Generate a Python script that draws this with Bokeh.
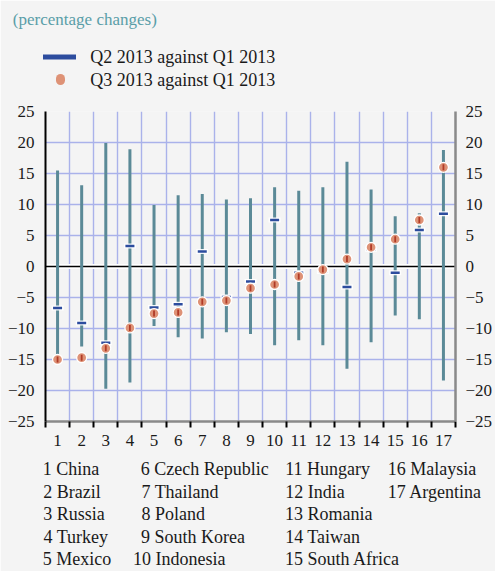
import math
from bokeh.plotting import figure
from bokeh.models import (Range1d, FixedTicker, LinearAxis, Span)
from bokeh.embed import file_html
from bokeh.resources import INLINE

# ---------------- data ----------------
countries = ["China", "Brazil", "Russia", "Turkey", "Mexico", "Czech Republic",
             "Thailand", "Poland", "South Korea", "Indonesia", "Hungary", "India",
             "Romania", "Taiwan", "South Africa", "Malaysia", "Argentina"]
idx = list(range(1, 18))
q2 = [-6.7, -9.1, -12.3, 3.3, -6.6, -6.1, 2.4, -4.9, -2.4, 7.5, -1.0, -0.8, -3.3, 2.8, -1.0, 5.9, 8.5]
q3 = [-15.0, -14.7, -13.2, -9.9, -7.6, -7.4, -5.7, -5.5, -3.5, -2.9, -1.6, -0.5, 1.2, 3.1, 4.4, 7.5, 16.0]
high = [15.5, 13.1, 19.9, 18.9, 9.9, 11.5, 11.7, 10.8, 11.0, 12.8, 12.2, 12.8, 16.9, 12.4, 8.1, 8.6, 18.8]
low = [-15.2, -12.9, -19.7, -18.7, -9.6, -11.4, -11.6, -10.6, -10.9, -12.7, -11.9, -12.7, -16.5, -12.2, -7.9, -8.5, -18.4]
y_ticks = [-25, -20, -15, -10, -5, 0, 5, 10, 15, 20, 25]
legend_labels = ["Q2 2013  against Q1 2013", "Q3 2013  against Q1 2013"]
title_text = "(percentage changes)"

# ---------------- style ----------------
FONT = "Liberation Serif"
BG = "#f4f4f4"
GRID = "#aab2ea"
TEAL = "#5b8a97"
BLUE = "#2c4c9e"
ORANGE = "#de9276"
DARKRED = "#b03a26"
TITLE_C = "#5a9ea8"
TXT = "#1a1a1a"

FL, FR = 45, 462  # frame edges (px)

# Times-compatible advance widths (per 1000 em) for placing text by its centre
_W = {" ": 250, "(": 333, ")": 333, "-": 333}
_W.update({d: 500 for d in "0123456789"})
_W.update(dict(zip("abcdefghijklmnopqrstuvwxyz",
                   [444, 500, 444, 500, 444, 333, 500, 500, 278, 278, 500, 278, 778,
                    500, 500, 500, 500, 333, 389, 278, 500, 500, 722, 500, 500, 444])))
_W.update(dict(zip("ABCDEFGHIJKLMNOPQRSTUVWXYZ",
                   [722, 667, 667, 722, 611, 556, 722, 722, 333, 389, 722, 611, 889,
                    722, 722, 556, 722, 667, 556, 611, 722, 722, 944, 722, 722, 611])))


def tw(s, size):
    return sum(_W.get(c, 500) for c in s) * size / 1000.0


p = figure(width=495, height=571, output_backend="svg", toolbar_location=None, title=None,
           x_range=Range1d(0.5, 17.5), y_range=Range1d(-25, 25),
           min_border_left=FL, min_border_right=495 - FR, min_border_top=111, min_border_bottom=147,
           background_fill_color=BG, border_fill_color=BG, outline_line_color=None)
p.extra_x_ranges = {"px": Range1d(FL, FR)}

# bottom axis
xa = p.xaxis[0]
xa.ticker = FixedTicker(ticks=idx, minor_ticks=[i + 0.5 for i in range(0, 18)])
xa.major_tick_line_color = None
xa.major_tick_out = 0
xa.major_tick_in = 0
xa.minor_tick_line_color = "black"
xa.minor_tick_line_width = 2
xa.minor_tick_out = 6
xa.minor_tick_in = 0
xa.axis_line_color = "#8a8a8a"
xa.axis_line_width = 2.5
xa.major_label_standoff = 7
xa.major_label_text_font = FONT
xa.major_label_text_font_size = "17px"
xa.major_label_text_color = TXT

# left axis
ya = p.yaxis[0]
ya.ticker = FixedTicker(ticks=y_ticks)
ya.major_tick_out = 0
ya.major_tick_in = 0
ya.minor_tick_line_color = None
ya.axis_line_color = "black"
ya.axis_line_width = 2
ya.major_label_standoff = 11
ya.major_label_text_font = FONT
ya.major_label_text_font_size = "17px"
ya.major_label_text_color = TXT

# right axis
ra = LinearAxis(ticker=FixedTicker(ticks=y_ticks))
ra.major_tick_out = 0
ra.major_tick_in = 0
ra.minor_tick_line_color = None
ra.axis_line_color = "#8a8a8a"
ra.axis_line_width = 2.5
ra.major_label_standoff = 10
ra.major_label_text_font = FONT
ra.major_label_text_font_size = "17px"
ra.major_label_text_color = TXT
p.add_layout(ra, "right")

# grids
p.xgrid.ticker = FixedTicker(ticks=[i + 0.5 for i in range(1, 17)])
p.ygrid.ticker = FixedTicker(ticks=y_ticks)
for g in (p.xgrid[0], p.ygrid[0]):
    g.grid_line_color = GRID
    g.grid_line_width = 1.4

# zero line
p.add_layout(Span(location=0, dimension="width", line_color="white", line_width=5, level="underlay"))
p.add_layout(Span(location=0, dimension="width", line_color="black", line_width=1.6, level="underlay"))

# ranges
p.segment(x0=idx, y0=low, x1=idx, y1=high, line_color=TEAL, line_width=3)

# Q2 markers
p.scatter(idx, q2, marker="dash", size=12, line_color="white", line_width=5, line_alpha=0.9)
p.scatter(idx, q2, marker="dash", size=9, line_color=BLUE, line_width=2.5)

# Q3 markers
p.scatter(idx, q3, marker="circle", size=10, fill_color=ORANGE, line_color="white", line_width=1.3)
p.scatter(idx, q3, marker="dash", angle=math.pi / 2, size=6, line_color=DARKRED, line_width=1.8)


def text_axis(centres, texts, size, color, standoff, minor=None):
    ticks = [int(round(c)) for c in centres]
    ax = LinearAxis(x_range_name="px",
                    ticker=FixedTicker(ticks=ticks, minor_ticks=minor or []),
                    major_label_overrides={t: s for t, s in zip(ticks, texts)})
    ax.axis_line_color = None
    ax.major_tick_line_color = None
    ax.minor_tick_line_color = None
    ax.major_tick_out = 0
    ax.major_tick_in = 0
    ax.minor_tick_out = 0
    ax.minor_tick_in = 0
    ax.major_label_standoff = standoff
    ax.major_label_text_font = FONT
    ax.major_label_text_font_size = size
    ax.major_label_text_color = color
    return ax


def spacer(standoff):
    return text_axis([100], [" "], "1px", BG, standoff)


# ---- header (above the frame), listed from the frame outwards ----
ax_q3 = text_axis([92 + tw(legend_labels[1], 18) / 2], [legend_labels[1]], "18px", TXT, 22)

# Q2 text row; its minor tick draws the orange Q3 key dot in the row below
ax_q2 = text_axis([92 + tw(legend_labels[0], 18) / 2], [legend_labels[0]], "18px", TXT, 0, minor=[60])
ax_q2.minor_tick_line_color = ORANGE
ax_q2.minor_tick_line_width = 9
ax_q2.minor_tick_line_cap = "round"
ax_q2.minor_tick_out = -12
ax_q2.minor_tick_in = 14

# title row; its minor tick draws the blue Q2 key bar in the row below
ax_title = text_axis([12.7 + tw(title_text, 17) / 2], [title_text], "17px", TITLE_C, 15, minor=[59.5])
ax_title.minor_tick_line_color = BLUE
ax_title.minor_tick_line_width = 33
ax_title.minor_tick_out = -11
ax_title.minor_tick_in = 16

p.add_layout(ax_q3, "above")
p.add_layout(ax_q2, "above")
p.add_layout(ax_title, "above")
p.add_layout(spacer(2), "above")

# ---- country key (below the x axis), one label-only axis per row ----
name_x = [56.7, 157.0, 311.7, 416.7]
row_standoff = [10, 0, -1, 0, -1]
rows = [[] for _ in range(5)]
for i, name in enumerate(countries):
    c, r = i // 5, i % 5
    txt = f"{idx[i]} {name}"
    start = name_x[c] - tw(f"{idx[i]} ", 18)
    rows[r].append((start + tw(txt, 18) / 2, txt))
for r, row in enumerate(rows):
    p.add_layout(text_axis([c for c, _ in row], [t for _, t in row], "18px", TXT,
                           row_standoff[r]), "below")

open("out.html", "w").write(file_html(p, INLINE))
